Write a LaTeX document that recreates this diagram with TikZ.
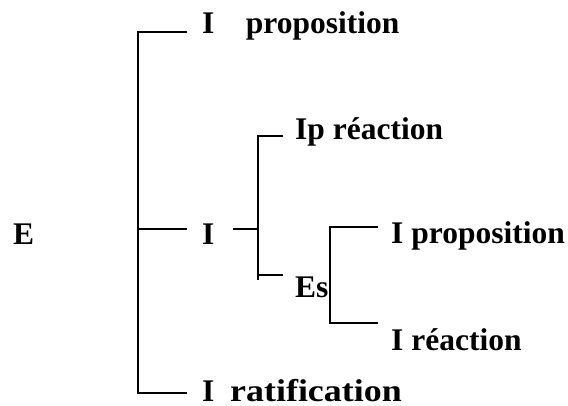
\documentclass[tikz,border=0pt]{standalone}
\usepackage{fontspec}
\setmainfont{Liberation Serif}

\begin{document}
\begin{tikzpicture}[
  x=1pt, y=-1pt,
  every node/.style={inner sep=0pt, anchor=base west},
  term/.style={font=\fontsize{31.5}{36}\selectfont\bfseries},
  brk/.style={line width=1.6pt}
]
\useasboundingbox (0,0) rectangle (568,405);

% labels
\node[term] (e)      at (13,244)  {E};
\node[term] (iprop)  at (202,33)  {I\quad proposition};
\node[term] (imid)   at (202,244) {I};
\node[term] (iprea)  at (295,139) {Ip r\'eaction};
\node[term] (es)     at (295,297) {Es};
\node[term] (iprop2) at (391,243) {I proposition};
\node[term] (irea)   at (391,350) {I r\'eaction};
\node[term] (irat)   at (202,401) {I\ \ \scalebox{1.14}[1]{ratification}};

% bracket ends
\coordinate (a1) at (187,32);
\coordinate (a2) at (187,229);
\coordinate (a3) at (187,393);
\coordinate (a0) at (138,229);
\coordinate (b0) at (233,229);
\coordinate (b1) at (283,136);
\coordinate (b2) at (283,275);
\coordinate (b3) at (258,280);
\coordinate (c1) at (378,227);
\coordinate (c2) at (378,323);

% E bracket
\draw[brk] (a1) -| (a0 |- a3) -- (a3);
\draw[brk] (a0) -- (a2);
% I bracket
\draw[brk] (b0) -- (b0 -| b3);
\draw[brk] (b1) -| (b3);
\draw[brk] (b3 |- b2) -- (b2);
% Es bracket
\draw[brk] (c1) -| ([xshift=1.5pt]es.east |- c2) -- (c2);

\end{tikzpicture}
\end{document}
